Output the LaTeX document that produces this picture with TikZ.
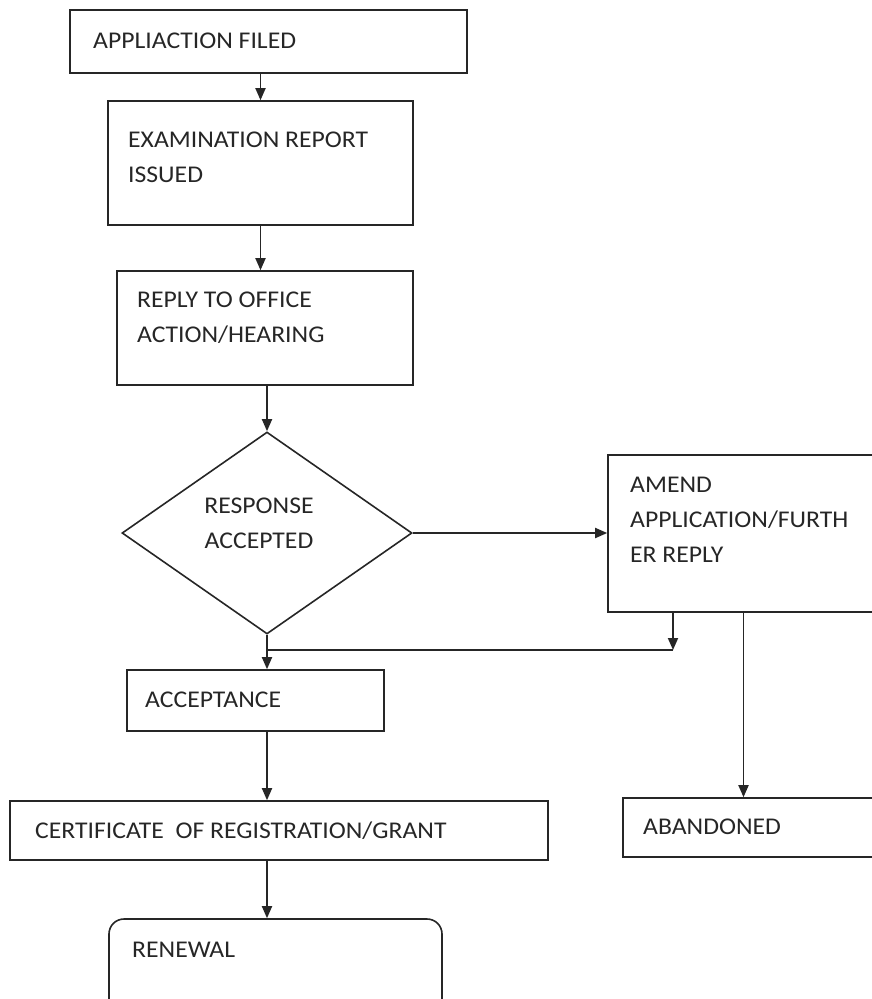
\documentclass[tikz,border=0pt]{standalone}
\usepackage{fontspec}
\setmainfont{Carlito}[FakeStretch=1.07]
\usetikzlibrary{arrows.meta,shapes.geometric}

\begin{document}
\begin{tikzpicture}[x=1pt,y=-1pt,
    box/.style={draw=black!85, line width=1.6pt, inner sep=0},
    txt/.style={anchor=north west, inner sep=0, align=left, text=black!85,
      font=\fontsize{24}{35}\selectfont},
    arr/.style={-{Triangle[length=12pt,width=10pt]}, line width=1.8pt, draw=black!85}]
    \useasboundingbox (0,0) rectangle (871,999);
    % boxes
    \node[box, minimum width=397pt, minimum height=63pt] (A) at (268.5,41.5) {};
    \node[box, minimum width=305pt, minimum height=124pt] (B) at (260.5,163) {};
    \node[box, minimum width=296pt, minimum height=114pt] (C) at (265,328) {};
    \node[box, shape=diamond, minimum width=290pt, minimum height=202pt] (D) at (267,533) {};
    \node[box, minimum width=267pt, minimum height=157pt] (E) at (741.5,533.5) {};
    \node[box, minimum width=257pt, minimum height=61pt] (F) at (255.5,700.5) {};
    \node[box, minimum width=538pt, minimum height=59pt] (G) at (279,830.5) {};
    \node[box, minimum width=254pt, minimum height=59pt] (H) at (750,827.5) {};
    \node[box, rounded corners=15pt, minimum width=333pt, minimum height=95pt] (I) at (275.5,966.5) {};
    % texts
    \node[txt] (tA) at (93,33) {APPLIACTION FILED};
    \node[txt] (tB) at (128,132) {EXAMINATION REPORT\\ISSUED};
    \node[txt] (tC) at (137,292) {REPLY TO OFFICE\\ACTION/HEARING};
    \node[txt, anchor=north, align=center] (tD) at (259,498) {RESPONSE\\ACCEPTED};
    \node[txt] (tE) at (630,477) {AMEND\\APPLICATION/FURTH\\ER REPLY};
    \node[txt] (tF) at (145,692) {ACCEPTANCE};
    \node[txt] (tG) at (35,822) {CERTIFICATE~ OF REGISTRATION/GRANT};
    \node[txt] (tH) at (643,819) {ABANDONED};
    \node[txt] (tI) at (132,942) {RENEWAL};
    % connectors
    \coordinate (meet) at (673,650);
    \draw[arr] (B.north |- A.south) -- (B.north);
    \draw[arr] (B.south) -- (B.south |- C.north);
    \draw[arr] (D.north |- C.south) -- (D.north);
    \draw[arr] (D.east) -- (D.east -| E.west);
    \draw[arr] (D.south) -- (D.south |- F.north);
    \draw[arr] (meet |- E.south) -- (meet);
    \draw[line width=1.8pt, draw=black!85] (meet) -- (meet -| D.south);
    \draw[arr] ([xshift=2pt]E.south) -- ([xshift=2pt]E.south |- H.north);
    \draw[arr] (F.south -| D.south) -- (G.north -| D.south);
    \draw[arr] (G.south -| D.south) -- (I.north -| D.south);
\end{tikzpicture}
\end{document}
